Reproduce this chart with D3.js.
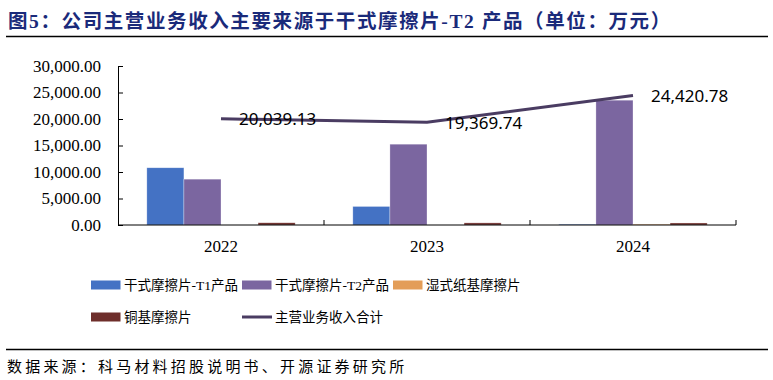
<!DOCTYPE html>
<html>
<head>
<meta charset="utf-8">
<script src="https://cdn.jsdelivr.net/npm/d3@7"></script>
<style>
  html, body { margin: 0; padding: 0; background: #fff; }
  svg { display: block; }
</style>
</head>
<body>
<svg id="chart" width="773" height="380"></svg>
<script>
const categories = ["2022", "2023", "2024"];
const seriesNames = ["干式摩擦片-T1产品", "干式摩擦片-T2产品", "湿式纸基摩擦片", "铜基摩擦片"];
const t1Values = [10800, 3500, 150];
const t2Values = [8650, 15250, 23550];
const wetValues = [0, 0, 150];
const copperValues = [420, 400, 380];
const totalName = "主营业务收入合计";
const totalValues = [20039.13, 19369.74, 24420.78];
const yTicks = [0, 5000, 10000, 15000, 20000, 25000, 30000];

const colors = ["#4472C4", "#7B66A0", "#E39D58", "#6E2E2B"];
const lineColor = "#4A3C62";

const svg = d3.select("#chart");
const serif = "'Liberation Serif', 'Times New Roman', serif";
const cjk = "'Liberation Serif', 'Noto Sans CJK SC', serif";

// Title
svg.append("text")
  .attr("x", 8).attr("y", 27.5)
  .attr("font-family", cjk)
  .attr("font-weight", "bold")
  .attr("font-size", 19.5)
  .attr("letter-spacing", 1.6)
  .attr("fill", "#1A2A7A")
  .text("图5：公司主营业务收入主要来源于干式摩擦片-T2 产品（单位：万元）");
svg.append("line").attr("x1", 6).attr("x2", 768).attr("y1", 36.5).attr("y2", 36.5)
  .attr("stroke", "#000").attr("stroke-width", 1.5);

// Scales
const x0 = d3.scaleBand().domain(categories).range([118, 736]).paddingInner(0).paddingOuter(0);
const bw = x0.bandwidth();
const x1 = d3.scaleBand().domain(seriesNames).range([bw * 0.14, bw * 0.86]);
const y = d3.scaleLinear().domain([0, 30000]).range([225, 66]);

const seriesData = [t1Values, t2Values, wetValues, copperValues];

// Bars
seriesData.forEach((vals, si) => {
  svg.append("g").selectAll("rect")
    .data(vals)
    .join("rect")
    .attr("x", (d, i) => x0(categories[i]) + x1(seriesNames[si]))
    .attr("width", x1.bandwidth())
    .attr("y", d => y(d))
    .attr("height", d => y(0) - y(d))
    .attr("fill", colors[si])
    .attr("stroke", d => d > 0 ? "rgba(255,255,255,0.5)" : "none")
    .attr("stroke-width", 0.6);
});

// Y axis
const yAxis = d3.axisLeft(y).tickValues(yTicks).tickSizeInner(-5).tickSizeOuter(0).tickPadding(17)
  .tickFormat(d3.format(",.2f"));
const gy = svg.append("g").attr("transform", "translate(118,0)").call(yAxis);
gy.select(".domain").attr("stroke", "#000").attr("stroke-width", 1);
gy.selectAll(".tick line").attr("stroke", "#000");
gy.selectAll(".tick text").attr("font-family", serif).attr("font-size", 17).attr("fill", "#000");

// X axis
svg.append("line").attr("x1", 118).attr("x2", 736).attr("y1", y(0)).attr("y2", y(0))
  .attr("stroke", "#000").attr("stroke-width", 1);
const boundaries = categories.map(c => x0(c) + bw);
svg.append("g").selectAll("line").data(boundaries).join("line")
  .attr("x1", d => d).attr("x2", d => d)
  .attr("y1", y(0)).attr("y2", y(0) - 5)
  .attr("stroke", "#000");
svg.append("g").selectAll("text").data(categories).join("text")
  .attr("x", d => x0(d) + bw / 2)
  .attr("y", 252)
  .attr("text-anchor", "middle")
  .attr("font-family", serif).attr("font-size", 17).attr("fill", "#000")
  .text(d => d);

// Line
const line = d3.line()
  .x((d, i) => x0(categories[i]) + bw / 2)
  .y(d => y(d));
svg.append("path").datum(totalValues)
  .attr("d", line)
  .attr("fill", "none")
  .attr("stroke", lineColor)
  .attr("stroke-width", 3);

// Line labels
svg.append("g").selectAll("text").data(totalValues).join("text")
  .attr("x", (d, i) => x0(categories[i]) + bw / 2 + 18)
  .attr("y", (d, i) => y(d) + 6.5)
  .attr("font-family", "'Noto Sans', 'Open Sans', sans-serif")
  .attr("font-size", 17)
  .attr("fill", "#000")
  .text(d => d3.format(",.2f")(d));

// Legend
const legendItems = [
  { name: seriesNames[0], color: colors[0], type: "rect", x: 91, y: 285 },
  { name: seriesNames[1], color: colors[1], type: "rect", x: 242, y: 285 },
  { name: seriesNames[2], color: colors[2], type: "rect", x: 393, y: 285 },
  { name: seriesNames[3], color: colors[3], type: "rect", x: 91, y: 317 },
  { name: totalName, color: lineColor, type: "line", x: 242, y: 317 }
];
const lg = svg.append("g");
legendItems.forEach(it => {
  if (it.type === "rect") {
    lg.append("rect").attr("x", it.x).attr("y", it.y - 4.5).attr("width", 29.5).attr("height", 9)
      .attr("fill", it.color);
  } else {
    lg.append("line").attr("x1", it.x).attr("x2", it.x + 30).attr("y1", it.y).attr("y2", it.y)
      .attr("stroke", it.color).attr("stroke-width", 3);
  }
  lg.append("text").attr("x", it.x + 33).attr("y", it.y + 5)
    .attr("font-family", cjk).attr("font-size", 13.5).attr("fill", "#000")
    .text(it.name);
});

// Source
svg.append("line").attr("x1", 6).attr("x2", 768).attr("y1", 349.5).attr("y2", 349.5)
  .attr("stroke", "#000").attr("stroke-width", 1.5);
svg.append("text").attr("x", 7).attr("y", 372)
  .attr("font-family", cjk).attr("font-size", 15).attr("fill", "#000")
  .attr("letter-spacing", 3.2)
  .text("数据来源：科马材料招股说明书、开源证券研究所");
</script>
</body>
</html>
